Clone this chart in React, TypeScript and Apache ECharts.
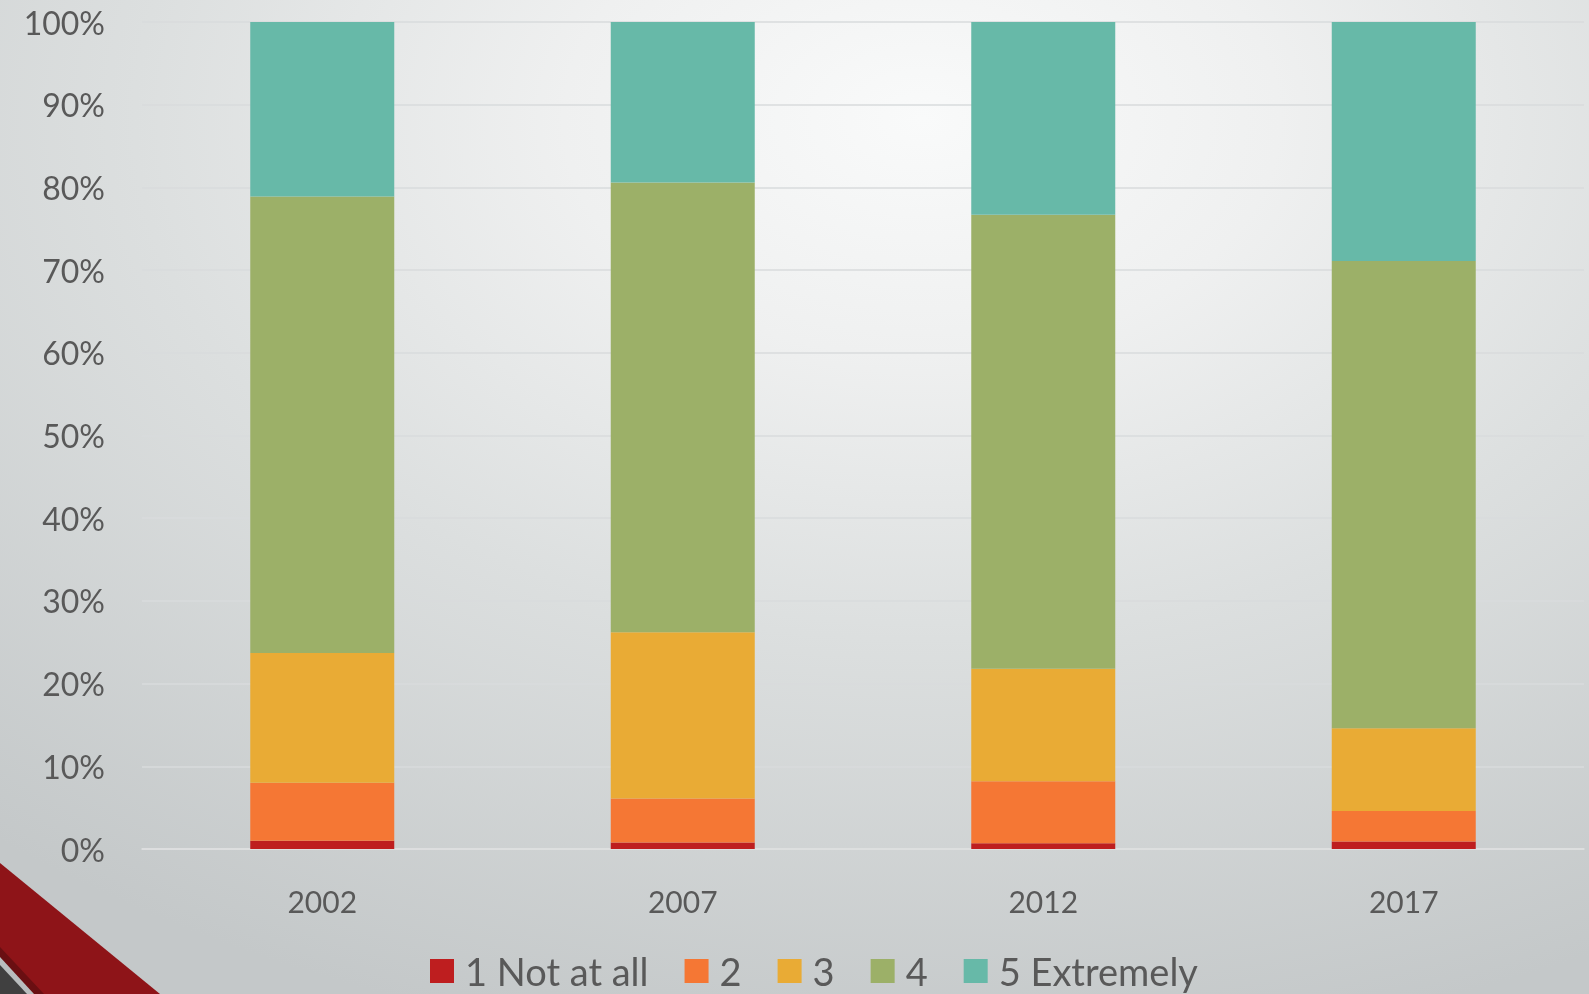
import React, { useEffect, useRef } from "react";
import * as echarts from "echarts";

const years = ["2002", "2007", "2012", "2017"];
const notAtAll = [1.0, 0.8, 0.7, 0.9];
const two = [7.0, 5.3, 7.5, 3.7];
const three = [15.7, 20.1, 13.6, 10.0];
const four = [55.2, 54.4, 54.9, 56.5];
const extremely = [21.1, 19.4, 23.3, 28.9];

const seriesNames = ["1 Not at all", "2", "3", "4", "5 Extremely"];
const seriesData = [notAtAll, two, three, four, extremely];
const colors = ["#BE1E1F", "#F57734", "#E9AB35", "#9CB068", "#67B9A8"];

export default function App() {
  const ref = useRef<HTMLDivElement>(null);

  useEffect(() => {
    if (!ref.current) return;
    const chart = echarts.init(ref.current, undefined, { renderer: "svg" });
    const font = "Lato";
    chart.setOption({
      animation: false,
      backgroundColor: "transparent",
      color: colors,
      grid: { left: 142, right: 5, top: 22, bottom: 145, containLabel: false },
      legend: {
        left: 425,
        top: 947,
        itemWidth: 24,
        itemHeight: 24,
        itemGap: 36,
        icon: "rect",
        textStyle: {
          fontFamily: font,
          fontSize: 38,
          color: "#595959",
          padding: [0, 0, 0, 6],
        },
        data: seriesNames,
      },
      xAxis: {
        type: "category",
        data: years,
        axisLine: { show: true, lineStyle: { color: "#dfe1e1", width: 1.5 } },
        axisTick: { show: false },
        axisLabel: {
          margin: 37,
          fontFamily: font,
          fontSize: 30,
          color: "#595959",
        },
      },
      yAxis: {
        type: "value",
        min: 0,
        max: 100,
        interval: 10,
        axisLine: { show: false },
        axisTick: { show: false },
        splitLine: { show: true, lineStyle: { color: "#d9dbdc", width: 1.5 } },
        axisLabel: {
          margin: 37,
          formatter: "{value}%",
          fontFamily: font,
          fontSize: 32,
          color: "#595959",
        },
      },
      series: seriesNames.map((name, i) => ({
        name,
        type: "bar",
        stack: "total",
        barWidth: 144,
        data: seriesData[i],
        itemStyle: { color: colors[i] },
      })),
      graphic: [
        {
          type: "polygon",
          z: 100,
          shape: { points: [[0, 863], [160, 994], [0, 994]] },
          style: { fill: "#8E1418" },
        },
        {
          type: "polygon",
          z: 101,
          shape: { points: [[0, 947], [44, 994], [0, 994]] },
          style: { fill: "#6A0F12" },
        },
        {
          type: "polygon",
          z: 102,
          shape: { points: [[0, 957], [34, 994], [0, 994]] },
          style: { fill: "#B9BDBE" },
        },
        {
          type: "polygon",
          z: 103,
          shape: { points: [[0, 965], [27, 994], [0, 994]] },
          style: { fill: "#404040" },
        },
      ],
    });
    return () => chart.dispose();
  }, []);

  return (
    <div
      style={{
        position: "fixed",
        left: 0,
        top: 0,
        width: 1589,
        height: 994,
        overflow: "hidden",
        background:
          "radial-gradient(ellipse 90% 95% at 58% 12%, #f9fafa 0%, #eff0f0 25%, #dcdfdf 55%, #c4c8c9 100%)",
      }}
    >
      <div ref={ref} style={{ width: 1589, height: 994 }} />
    </div>
  );
}
